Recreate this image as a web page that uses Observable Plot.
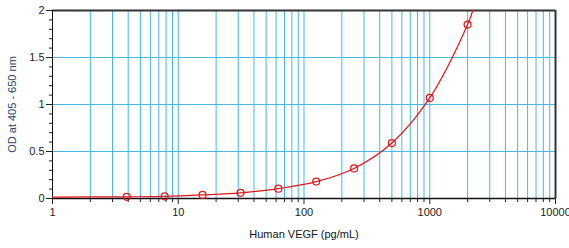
<!DOCTYPE html>
<html>
<head>
<meta charset="utf-8">
<script src="https://cdn.jsdelivr.net/npm/d3@7"></script>
<script src="https://cdn.jsdelivr.net/npm/@observablehq/plot@0.6"></script>
<style>
  html, body { margin: 0; padding: 0; background: #fff; }
  #chart svg { display: block; overflow: visible; }
</style>
</head>
<body>
<div id="chart"></div>
<script>
// Standard concentrations (pg/mL) and measured OD
const conc = [3.9, 7.8, 15.6, 31.25, 62.5, 125, 250, 500, 1000, 2000];
const od   = [0.018, 0.022, 0.038, 0.06, 0.105, 0.18, 0.32, 0.59, 1.07, 1.85];
// Fitted curve (start and end of the drawn fit)
const fitConc = [1, 3.9, 7.8, 15.6, 31.25, 62.5, 125, 250, 500, 1000, 2000, 2200];
const fitOd   = [0.015, 0.018, 0.022, 0.038, 0.06, 0.105, 0.18, 0.32, 0.59, 1.07, 1.85, 2.0];

const majorX = [1, 10, 100, 1000, 10000];
const minorX = [2,3,4,5,6,7,8,9, 20,30,40,50,60,70,80,90, 200,300,400,500,600,700,800,900, 2000,3000,4000,5000,6000,7000,8000,9000];
const majorY = [0, 0.5, 1, 1.5, 2];
const minorY = [0.1,0.2,0.3,0.4,0.6,0.7,0.8,0.9,1.1,1.2,1.3,1.4,1.6,1.7,1.8,1.9];

const points = conc.map((c, i) => ({c, od: od[i]}));
const fit = fitConc.map((c, i) => ({c, od: fitOd[i]}));

const grid = "#45b9e8";
const red = "#e3141b";

const chart = Plot.plot({
  width: 569,
  height: 248,
  marginLeft: 52,
  marginRight: 14,
  marginTop: 10,
  marginBottom: 50,
  style: {fontFamily: "Liberation Sans, Arial, sans-serif", fontSize: "11px", color: "#222"},
  x: {type: "log", domain: [1, 10000]},
  y: {domain: [0, 2]},
  marks: [
    Plot.ruleX(minorX, {stroke: grid, strokeWidth: 1}),
    Plot.ruleY([0.5, 1, 1.5], {stroke: grid, strokeWidth: 1}),
    Plot.ruleX([10, 100, 1000], {stroke: grid, strokeWidth: 1}),
    // frame
    Plot.ruleY([2], {stroke: "#333", strokeWidth: 2}),
    Plot.ruleX([10000], {stroke: "#333", strokeWidth: 2}),
    Plot.ruleX([1], {stroke: "#111", strokeWidth: 1}),
    Plot.ruleY([0], {stroke: "#111", strokeWidth: 1.5}),
    // axes
    Plot.axisX(majorX, {tickSize: 6, tickPadding: 4, tickFormat: d => String(d), label: null, stroke: "#222", fill: "#222"}),
    Plot.axisX(minorX, {tickSize: 4, tickFormat: () => "", label: null, stroke: "#222"}),
    Plot.axisY(majorY, {tickSize: 6, tickPadding: 2, tickFormat: d => String(d), label: null, stroke: "#222", fill: "#222"}),
    Plot.axisY(minorY, {tickSize: 3, tickFormat: () => "", label: null, stroke: "#222"}),
    // titles
    Plot.text(["Human VEGF (pg/mL)"], {frameAnchor: "bottom", dy: 39, fill: "#111", fontSize: 11}),
    Plot.text(["OD at 405 - 650 nm"], {frameAnchor: "left", dx: -40, rotate: -90, textAnchor: "middle", fill: "#2b4466", fontSize: 11}),
    // data
    Plot.line(fit, {x: "c", y: "od", stroke: red, strokeWidth: 1.2, curve: "catmull-rom"}),
    Plot.dot(points, {x: "c", y: "od", r: 3.5, stroke: red, strokeWidth: 1.2, fill: "none"})
  ]
});
document.getElementById("chart").appendChild(chart);
</script>
</body>
</html>
